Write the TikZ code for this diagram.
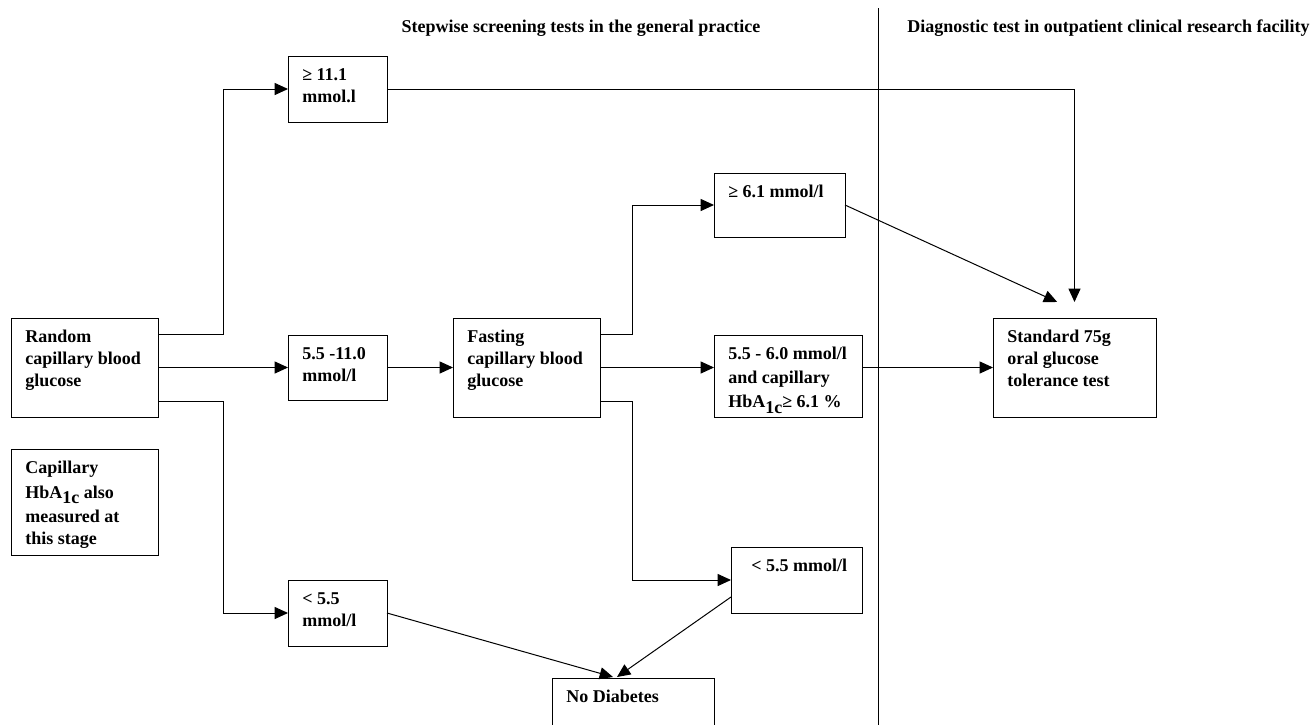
\documentclass[tikz,border=0pt]{standalone}
\usepackage{fontspec}
\setmainfont{Liberation Serif}
\usetikzlibrary{arrows.meta}
\newcommand\subonec{\raisebox{-0.3em}{1c}}
\begin{document}
\begin{tikzpicture}[x=0.75pt,y=-0.75pt,
  box/.style={draw, line width=0.75pt, inner sep=0pt, outer sep=0pt, anchor=north west},
  dim/.style 2 args={minimum width=#1*0.75pt, minimum height=#2*0.75pt},
  txt/.style={inner sep=0pt, anchor=north west, align=left, font=\bfseries\fontsize{13.5pt}{16.5pt}\selectfont},
  head/.style={inner sep=0pt, font=\bfseries\fontsize{13.5pt}{16pt}\selectfont},
  ln/.style={line width=0.75pt},
  arr/.style={line width=0.75pt, -{Triangle[length=10pt,width=9pt]}}]
\clip (0,0) rectangle (1315,725);
\fill[white] (0,0) rectangle (1315,725);

% headers and divider
\node[head, anchor=base] (h1) at (581,32) {Stepwise screening tests in the general practice};
\node[head, anchor=base west] (h2) at (907,32) {Diagnostic test in outpatient clinical research facility};
\coordinate (dtop) at (878,8);
\coordinate (dbot) at (878,725);
\draw[ln] (dtop) -- (dbot);

% boxes
\node[box, dim={147}{99}]  (rand) at (11,318) {};
\node[box, dim={147}{106}] (cap)  at (11,449) {};
\node[box, dim={99}{66}]   (g11)  at (288,56) {};
\node[box, dim={99}{65}]   (mid)  at (288,335) {};
\node[box, dim={99}{66}]   (lo)   at (288,580) {};
\node[box, dim={147}{99}]  (fast) at (453,318) {};
\node[box, dim={131}{64}]  (g61)  at (714,173) {};
\node[box, dim={148}{82}]  (m60)  at (714,335) {};
\node[box, dim={131}{66}]  (l55b) at (731,547) {};
\node[box, dim={162}{80}]  (nod)  at (552,678) {};
\node[box, dim={163}{99}]  (std)  at (993,318) {};

% texts
\node[txt] (randT) at ([xshift=10.5pt,yshift=-9pt]rand.north west) {Random\\capillary blood\\glucose};
\node[txt] (capT)  at ([xshift=10.5pt,yshift=-9pt]cap.north west) {Capillary\\[2pt]HbA\subonec{} also\\[1.5pt]measured at\\this stage};
\node[txt] (g11T)  at ([xshift=10.5pt,yshift=-9pt]g11.north west) {≥ 11.1\\mmol.l};
\node[txt] (midT)  at ([xshift=10.5pt,yshift=-9pt]mid.north west) {5.5 -11.0\\mmol/l};
\node[txt] (loT)   at ([xshift=10.5pt,yshift=-9pt]lo.north west) {< 5.5\\mmol/l};
\node[txt] (fastT) at ([xshift=10.5pt,yshift=-9pt]fast.north west) {Fasting\\capillary blood\\glucose};
\node[txt] (g61T)  at ([xshift=10.5pt,yshift=-9pt]g61.north west) {≥ 6.1 mmol/l};
\node[txt] (m60T)  at ([xshift=10.5pt,yshift=-9pt]m60.north west) {5.5 - 6.0 mmol/l\\[1pt]and capillary\\[2pt]HbA\subonec≥ 6.1 \%};
\node[txt] (l55bT) at ([xshift=15pt,yshift=-9pt]l55b.north west) {< 5.5 mmol/l};
\node[txt] (nodT)  at ([xshift=10.5pt,yshift=-9pt]nod.north west) {No Diabetes};
\node[txt] (stdT)  at ([xshift=10.5pt,yshift=-9pt]std.north west) {Standard 75g\\oral glucose\\tolerance test};

% junction columns
\coordinate (j1) at (223,0);
\coordinate (j2) at (632,0);

% connectors
\draw[arr] ([yshift=-12pt]rand.north east) -| (j1 |- g11.west) -- (g11.west);
\draw[arr] (rand.east) -- (mid.west);
\draw[arr] ([yshift=12pt]rand.south east) -| (j1 |- lo.west) -- (lo.west);
\draw[arr] (mid.east) -- (fast.west);
\draw[arr] ([yshift=-12pt]fast.north east) -| (j2 |- g61.west) -- (g61.west);
\draw[arr] (fast.east) -- (fast.east -| m60.west);
\draw[arr] ([yshift=12pt]fast.south east) -| (j2 |- l55b.west) -- (l55b.west);
\draw[arr] (g11.east) -| ([yshift=12pt]std.north);
\draw[arr] (g61.east) -- ([xshift=-13pt,yshift=12pt]std.north);
\draw[arr] (std.west -| m60.east) -- (std.west);
\draw[arr] (lo.east) -- ([xshift=-15pt,yshift=0.75pt]nod.north);
\draw[arr] ([yshift=-12.75pt]l55b.west) -- ([xshift=-12pt,yshift=0.75pt]nod.north);
\end{tikzpicture}
\end{document}
